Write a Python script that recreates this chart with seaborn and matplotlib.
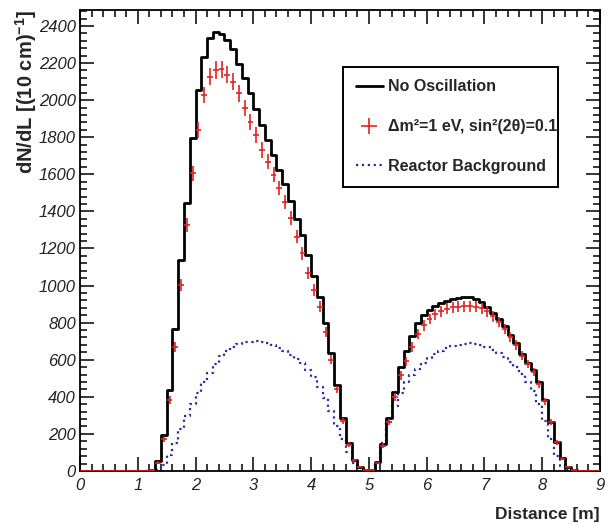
import numpy as np
import pandas as pd
import matplotlib
matplotlib.use("Agg")
import matplotlib.pyplot as plt
from matplotlib.lines import Line2D
from matplotlib.ticker import MultipleLocator
import seaborn as sns

# 10 cm bins from 0 to 9 m
bin_edges = np.round(np.arange(0.0, 9.05, 0.1), 1)

# Expected counts per bin without oscillation
no_oscillation = [
    0, 0, 0, 0, 0, 0, 0, 0, 0, 0, 0, 0,                      # 0.0 - 1.1
    5, 55, 194, 437, 768, 1140, 1445, 1796,                    # 1.2 - 1.9
    2055, 2235, 2335, 2370, 2355, 2325, 2275, 2195, 2120, 2040,  # 2.0 - 2.9
    1950, 1868, 1785, 1705, 1625, 1545, 1455, 1360, 1270, 1165,  # 3.0 - 3.9
    1052, 937, 800, 636, 464, 284, 149, 60, 22, 5,             # 4.0 - 4.9
    8, 47, 147, 284, 428, 560, 645, 728, 800, 840,             # 5.0 - 5.9
    868, 890, 905, 918, 927, 933, 937, 937, 930, 913,          # 6.0 - 6.9
    882, 850, 818, 780, 735, 690, 632, 585, 545, 480,          # 7.0 - 7.9
    383, 266, 158, 68, 23, 3, 0, 0, 0, 0,                      # 8.0 - 8.9
]

# Counts per bin for dm^2 = 1 eV^2, sin^2(2 theta) = 0.1
oscillation = [
    0, 0, 0, 0, 0, 0, 0, 0, 0, 0, 0, 0,
    3, 45, 170, 383, 670, 1003, 1327, 1606,
    1839, 2028, 2127, 2163, 2167, 2136, 2100, 2037, 1958, 1884,
    1812, 1731, 1668, 1597, 1525, 1452, 1363, 1264, 1174, 1066,
    976, 886, 751, 599, 440, 270, 142, 57, 21, 5,
    7, 43, 137, 265, 398, 515, 592, 668, 740, 785,
    820, 845, 862, 875, 882, 886, 888, 888, 886, 878,
    862, 835, 803, 766, 722, 678, 622, 577, 535, 470,
    376, 262, 155, 67, 22, 3, 0, 0, 0, 0,
]

# Reactor background counts per bin
reactor_background = [
    0, 0, 0, 0, 0, 0, 0, 0, 0, 0, 0, 0,
    0, 5, 30, 85, 150, 225, 295, 360,
    420, 478, 530, 578, 618, 648, 668, 683, 693, 698,
    700, 698, 690, 680, 665, 645, 625, 603, 580, 545,
    505, 455, 395, 325, 245, 170, 100, 45, 15, 2,
    5, 45, 150, 265, 350, 420, 480, 520, 548, 580,
    610, 630, 648, 662, 672, 680, 686, 688, 685, 678,
    668, 655, 638, 615, 590, 560, 525, 480, 430, 360,
    270, 170, 80, 25, 3, 0, 0, 0, 0, 0,
]

legend_labels = [
    "No Oscillation",
    "\u0394m\u00b2=1 eV, sin\u00b2(2\u03b8)=0.1",
    "Reactor Background",
]

sns.set_theme(style="ticks")
plt.rcParams["font.family"] = ["Liberation Sans", "DejaVu Sans"]
plt.rcParams["mathtext.fontset"] = "custom"
plt.rcParams["mathtext.rm"] = "Liberation Sans:bold"
plt.rcParams["mathtext.bf"] = "Liberation Sans:bold"

df = pd.DataFrame({
    "distance": bin_edges[:-1] + 0.05,
    "no_osc": no_oscillation,
    "osc": oscillation,
    "reactor": reactor_background,
})
bins = list(bin_edges)

fig = plt.figure(figsize=(6.07, 5.26), dpi=100)
fig.patch.set_facecolor("white")
ax = fig.add_axes([80 / 607, 1 - 471 / 526, 520 / 607, 461 / 526])
ax.set_facecolor("white")

black_col = "black"
red_col = "#e3231f"
blue_col = "#2c2c9e"

sns.histplot(data=df, x="distance", weights="reactor", bins=bins,
             element="step", fill=False, color=blue_col, linewidth=1.6,
             linestyle=":", ax=ax)
sns.histplot(data=df, x="distance", weights="no_osc", bins=bins,
             element="step", fill=False, color=black_col, linewidth=2.0, ax=ax)

osc = df["osc"].to_numpy(dtype=float)
err = ax.errorbar(df["distance"], osc, xerr=0.05, yerr=np.sqrt(osc),
                  fmt="none", ecolor=red_col, elinewidth=1.2, capsize=0,
                  zorder=4)

ax.set_xlim(0, 9)
ax.set_ylim(0, 2486)

ax.xaxis.set_major_locator(MultipleLocator(1))
ax.xaxis.set_minor_locator(MultipleLocator(0.2))
ax.yaxis.set_major_locator(MultipleLocator(200))
ax.yaxis.set_minor_locator(MultipleLocator(40))
ax.tick_params(which="both", direction="in", top=True, right=True,
               width=1.1, colors="black", labelcolor="#222222", labelsize=12)
ax.tick_params(which="major", length=10)
ax.tick_params(which="minor", length=5)
ax.tick_params(axis="x", pad=5)
ax.tick_params(axis="y", pad=3)
for lab in ax.get_xticklabels() + ax.get_yticklabels():
    lab.set_fontstyle("italic")
for sp in ax.spines.values():
    sp.set_linewidth(1.3)
    sp.set_color("black")

ax.set_xlabel("Distance [m]", loc="right", fontsize=12.5, fontweight="bold",
              labelpad=10)
ax.set_ylabel(r"dN/dL [(10 cm)$^{\mathbf{-1}}$]", loc="top", fontsize=14.5,
              fontweight="bold", labelpad=0)

handles = [
    Line2D([], [], color=black_col, linewidth=2.0),
    err,
    Line2D([], [], color=blue_col, linewidth=1.6, linestyle=":"),
]
leg = ax.legend(handles, legend_labels,
                bbox_to_anchor=(0.506, 0.62, 0.413, 0.257), mode="expand",
                loc="upper left", frameon=True, fancybox=False, framealpha=1,
                prop={"weight": "bold", "size": 11.5}, labelspacing=1.55,
                handlelength=1.7, handletextpad=0.3, borderpad=0.8,
                borderaxespad=0)
leg.get_frame().set_edgecolor("black")
leg.get_frame().set_linewidth(1.4)

fig.savefig("out.png", dpi=100, facecolor="white")
